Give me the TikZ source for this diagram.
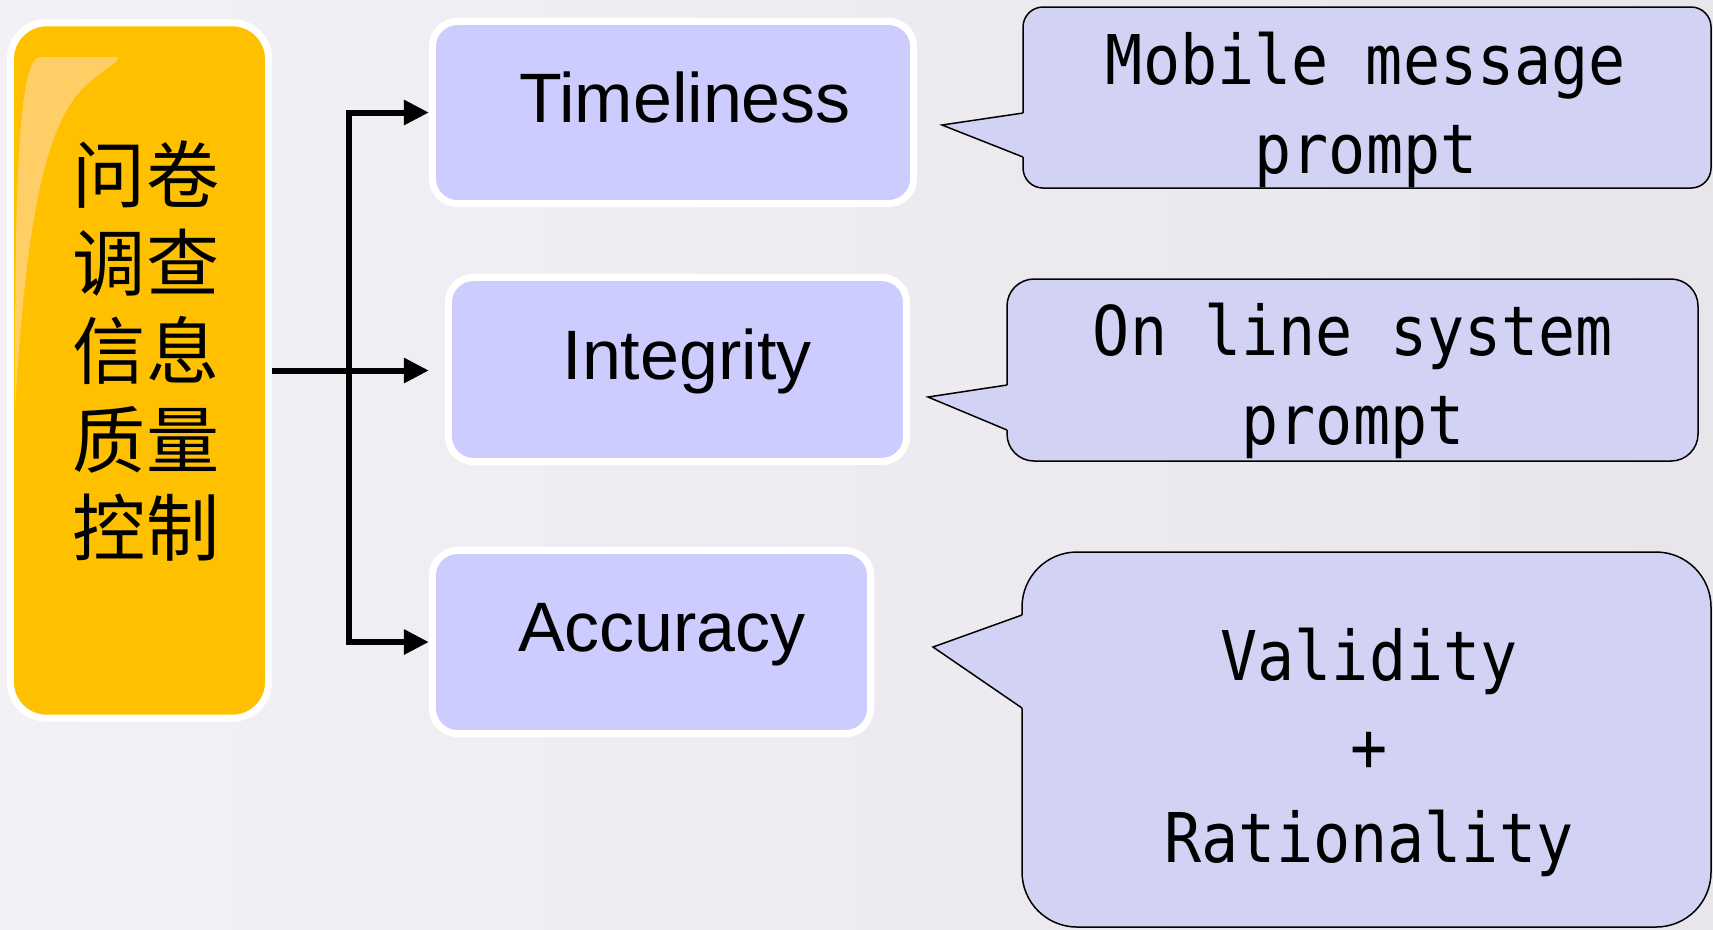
\documentclass[tikz,border=0pt]{standalone}
\usepackage{fontspec}
\usepackage{tikz}
\usetikzlibrary{arrows.meta}
\setmainfont{Liberation Sans}
\newfontfamily\cjk{Noto Sans CJK SC}
\newfontfamily\tipfont[FakeStretch=0.9]{DejaVu Sans Mono}
\definecolor{bgleft}{RGB}{243,241,245}
\definecolor{bgright}{RGB}{232,230,235}
\definecolor{gold}{RGB}{255,192,0}
\definecolor{shine}{RGB}{255,206,102}
\definecolor{lav}{RGB}{204,204,255}
\definecolor{tipfill}{RGB}{210,210,245}

\begin{document}
\begin{tikzpicture}[x=0.01cm, y=-0.01cm, >={Triangle[length=0.25cm, width=0.24cm]},
	item/.style={draw=white, line width=0.07cm, fill=lav, rounded corners=0.25cm},
	lbl/.style={font=\fontsize{19.9}{24}\selectfont},
	conn/.style={line width=0.06cm},
	bubble/.style={fill=tipfill, draw=black, line width=0.015cm},
	tiptext/.style={font=\tipfont\fontsize{19.5}{25.3}\selectfont, align=center, anchor=base}]
			\useasboundingbox (0,0) rectangle (1713,929);
			\shade[left color=bgleft, right color=bgright] (0,0) rectangle (1713,929);
			% left block
			\node[item, fill=gold, minimum width=2.58cm, minimum height=6.95cm, rounded corners=0.36cm] (q) at (139.5,370.5) {};
			\fill[shine] (15,410) .. controls (15,220) and (16,57) .. (40,57) -- (116,57) .. controls (126,57) and (100,72) .. (85,86) .. controls (45,125) and (26,220) .. (15,410) -- cycle;
			\node[font=\cjk\fontsize{20.8}{25.1}\selectfont, align=center] (qtext) at (146,351) {问卷\\调查\\信息\\质量\\控制};
			% three criteria
			\node[item, minimum width=4.81cm, minimum height=1.82cm, label={[lbl, xshift=0.12cm, yshift=0.15cm]center:Timeliness}] (time) at (673,112.5) {};
			\node[item, minimum width=4.58cm, minimum height=1.84cm, label={[lbl, xshift=0.095cm, yshift=0.085cm]center:Integrity}] (integ) at (677.5,369.5) {};
			\node[item, minimum width=4.38cm, minimum height=1.83cm, label={[lbl, xshift=0.105cm, yshift=0.075cm]center:Accuracy}] (accu) at (651.5,642) {};
			\coordinate (fork) at (349,370);
			\draw[conn, ->] (q.east) -- (q.east -| time.west);
			\draw[conn, <->] (time.west) -| (fork) |- (accu.west);
			% callouts
			\draw[bubble, rounded corners=0.2cm] (1023,7) rectangle (1711,188);
			\fill[tipfill] (1023,113) -- (942,125) -- (1023,157) -- (1027,157) -- (1027,113) -- cycle;
			\draw[bubble, fill=none] (1023,113) -- (942,125) -- (1023,157);
			\draw[bubble, rounded corners=0.27cm] (1007,279) rectangle (1698,461);
			\fill[tipfill] (1007,385) -- (928,397) -- (1007,430) -- (1011,430) -- (1011,385) -- cycle;
			\draw[bubble, fill=none] (1007,385) -- (928,397) -- (1007,430);
			\draw[bubble, rounded corners=0.55cm] (1022,552) rectangle (1711,927);
			\fill[tipfill] (1022,615) -- (933,647) -- (1022,708) -- (1026,708) -- (1026,615) -- cycle;
			\draw[bubble, fill=none] (1022,615) -- (933,647) -- (1022,708);
			\node[tiptext] (msg) at (1366,173) {Mobile message\\prompt};
			\node[tiptext] (sys) at (1353,444) {On line system\\prompt};
			\node[tiptext, font=\tipfont\fontsize{19.5}{25.75}\selectfont] (valid) at (1369,862) {Validity\\+\\Rationality};
\end{tikzpicture}
\end{document}
